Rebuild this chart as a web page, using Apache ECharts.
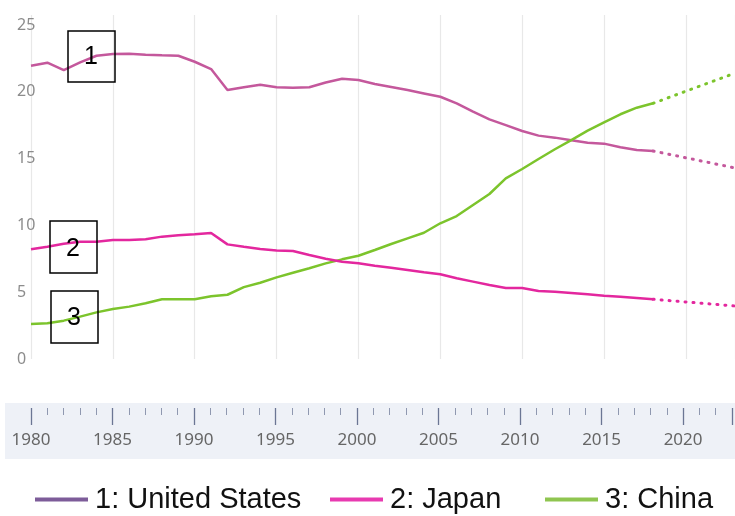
<!DOCTYPE html>
<html>
<head>
<meta charset="utf-8">
<script src="https://cdn.jsdelivr.net/npm/echarts@6/dist/echarts.min.js"></script>
<style>
html,body{margin:0;padding:0;background:#fff;}
#chart{width:735px;height:516px;}
</style>
</head>
<body>
<div id="chart"></div>
<script>
// ---- data ----
var years = [1980,1981,1982,1983,1984,1985,1986,1987,1988,1989,1990,1991,1992,1993,1994,1995,1996,1997,1998,1999,2000,2001,2002,2003,2004,2005,2006,2007,2008,2009,2010,2011,2012,2013,2014,2015,2016,2017,2018];
var usValues = [21.95,22.18,21.63,22.2,22.7,22.83,22.85,22.78,22.73,22.7,22.25,21.7,20.13,20.34,20.53,20.34,20.31,20.34,20.7,20.98,20.88,20.58,20.36,20.13,19.88,19.63,19.14,18.51,17.94,17.51,17.07,16.72,16.57,16.37,16.19,16.12,15.85,15.64,15.57];
var japanValues = [8.21,8.41,8.63,8.78,8.78,8.91,8.91,8.96,9.16,9.26,9.33,9.43,8.58,8.4,8.23,8.13,8.08,7.78,7.51,7.28,7.16,6.98,6.83,6.66,6.49,6.35,6.04,5.79,5.54,5.31,5.31,5.09,5.04,4.94,4.84,4.74,4.66,4.57,4.47];
var chinaValues = [2.62,2.67,2.87,3.17,3.49,3.74,3.92,4.17,4.47,4.47,4.47,4.69,4.81,5.38,5.71,6.11,6.46,6.79,7.16,7.46,7.73,8.16,8.61,9.03,9.45,10.16,10.7,11.53,12.35,13.52,14.22,14.97,15.7,16.39,17.09,17.72,18.32,18.81,19.14];
var projYears = [2018, 2023];
var usProj = [15.57, 14.3];
var japanProj = [4.47, 3.97];
var chinaProj = [19.14, 21.4];
var seriesNames = ['1: United States', '2: Japan', '3: China'];
var yTicks = [0, 5, 10, 15, 20, 25];
var xTicks = [1980, 1985, 1990, 1995, 2000, 2005, 2010, 2015, 2020];

function pairs(xs, vs) { return xs.map(function (x, i) { return [x, vs[i]]; }); }

var usLine = '#c4589c', jpLine = '#e3279e', cnLine = '#7cc42c';
var legendColors = ['#7d5c99', '#e83ab0', '#8fc550'];
var legendLefts = [35, 330, 545];

var chart = echarts.init(document.getElementById('chart'), null, {renderer: 'canvas'});

function solid(name, data, color, z) {
  return {name: name, type: 'line', data: data, xAxisIndex: 0, yAxisIndex: 0,
    symbol: 'none', z: z, lineStyle: {color: color, width: 2.5}, itemStyle: {color: color}, silent: true, animation: false};
}
function dotted(name, data, color, z) {
  return {name: name, type: 'line', data: data, xAxisIndex: 0, yAxisIndex: 0,
    symbol: 'none', z: z, lineStyle: {color: color, width: 3, type: [1, 7], cap: 'round'}, itemStyle: {color: color}, silent: true, animation: false};
}

var legends = seriesNames.map(function (n, i) {
  return {
    left: legendLefts[i], top: 485, padding: 0, icon: 'rect', itemWidth: 53, itemHeight: 4,
    textStyle: {fontSize: 29, fontFamily: 'Liberation Sans', color: '#111', padding: [0, 0, 0, 2]},
    selectedMode: false,
    data: [{name: n, itemStyle: {color: legendColors[i]}}]
  };
});

var option = {
  animation: false,
  backgroundColor: '#ffffff',
  grid: [
    {left: 31, top: 15, width: 705.2, height: 344},
    {left: 31, top: 407, width: 705.2, height: 1}
  ],
  xAxis: [
    {gridIndex: 0, type: 'value', min: 1980, max: 2023, interval: 5,
      axisLine: {show: false}, axisTick: {show: false}, axisLabel: {show: false},
      splitLine: {show: true, lineStyle: {color: '#e8e8e8', width: 1.2}}},
    {gridIndex: 1, type: 'value', min: 1980, max: 2023, interval: 5, position: 'bottom',
      axisLine: {show: false},
      axisTick: {show: true, length: 17, lineStyle: {color: '#6b7694', width: 1.3}},
      minorTick: {show: true, splitNumber: 5, length: 7, lineStyle: {color: '#8f98b0', width: 1}},
      splitLine: {show: false},
      axisLabel: {show: true, margin: 24, color: '#666', fontSize: 17, fontFamily: 'Noto Sans',
        formatter: function (v) { return xTicks.indexOf(v) >= 0 ? String(v) : ''; }}}
  ],
  yAxis: [
    {gridIndex: 0, type: 'value', min: 0, max: 25.75, interval: 5,
      axisLine: {show: false}, axisTick: {show: false}, splitLine: {show: false},
      axisLabel: {show: true, align: 'left', margin: 14, color: '#8c8c8c', fontSize: 16, fontFamily: 'Noto Sans',
        formatter: function (v) { return yTicks.indexOf(v) >= 0 ? String(v) : ''; }}},
    {gridIndex: 1, type: 'value', show: false}
  ],
  legend: legends,
  graphic: [
    {type: 'rect', z: -10, shape: {x: 5, y: 403, width: 730, height: 56}, style: {fill: '#eef1f7'}},
    {type: 'rect', z: 100, shape: {x: 68, y: 31, width: 47, height: 51}, style: {fill: 'transparent', stroke: '#000', lineWidth: 1.5}},
    {type: 'text', z: 101, x: 91, y: 57, style: {text: '1', fontSize: 25, fontFamily: 'Liberation Sans', fill: '#000', align: 'center', verticalAlign: 'middle'}},
    {type: 'rect', z: 100, shape: {x: 50, y: 221, width: 47, height: 52}, style: {fill: 'transparent', stroke: '#000', lineWidth: 1.5}},
    {type: 'text', z: 101, x: 73, y: 249, style: {text: '2', fontSize: 25, fontFamily: 'Liberation Sans', fill: '#000', align: 'center', verticalAlign: 'middle'}},
    {type: 'rect', z: 100, shape: {x: 51, y: 291, width: 47, height: 52}, style: {fill: 'transparent', stroke: '#000', lineWidth: 1.5}},
    {type: 'text', z: 101, x: 74, y: 318, style: {text: '3', fontSize: 25, fontFamily: 'Liberation Sans', fill: '#000', align: 'center', verticalAlign: 'middle'}}
  ],
  series: [
    solid(seriesNames[0], pairs(years, usValues), usLine, 2),
    dotted(seriesNames[0], pairs(projYears, usProj), usLine, 2),
    solid(seriesNames[2], pairs(years, chinaValues), cnLine, 3),
    dotted(seriesNames[2], pairs(projYears, chinaProj), cnLine, 3),
    solid(seriesNames[1], pairs(years, japanValues), jpLine, 4),
    dotted(seriesNames[1], pairs(projYears, japanProj), jpLine, 4)
  ]
};
chart.setOption(option);
</script>
</body>
</html>
